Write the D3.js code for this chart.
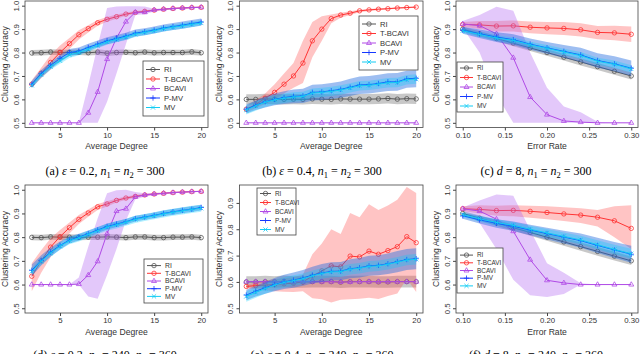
<!DOCTYPE html>
<html>
<head>
<meta charset="utf-8">
<script src="https://d3js.org/d3.v7.min.js"></script>
<style>
  body { margin: 0; background: #fff; }
  svg text { font-family: "Liberation Sans", Arial, sans-serif; fill: #333; }
  text.cap, text.cap tspan { font-family: "Liberation Serif", "DejaVu Serif", serif; fill: #000; }
</style>
</head>
<body>
<svg width="640" height="354"></svg>
<script>
// x values and ticks
var degree = [2,3,4,5,6,7,8,9,10,11,12,13,14,15,16,17,18,19,20];
var errorRate = [0.10,0.12,0.14,0.16,0.18,0.20,0.22,0.24,0.26,0.28,0.30];
var degreeTicks = [5,10,15,20];
var errorTicks = [0.10,0.15,0.20,0.25,0.30];
var accTicks = [0.5,0.6,0.7,0.8,0.9,1.0];
var accTicksE = [0.5,0.6,0.7,0.8,0.9];
var methods = ["RI","T-BCAVI","BCAVI","P-MV","MV"];

// (a) eps = 0.2, n1 = n2 = 300
var aRI   = [0.798,0.799,0.802,0.801,0.800,0.801,0.799,0.802,0.797,0.800,0.801,0.799,0.802,0.799,0.800,0.800,0.800,0.803,0.799];
var aRIlo = [0.786,0.787,0.789,0.789,0.788,0.789,0.787,0.790,0.785,0.788,0.789,0.787,0.790,0.787,0.788,0.788,0.788,0.790,0.787];
var aRIhi = [0.811,0.812,0.814,0.813,0.812,0.813,0.811,0.814,0.810,0.812,0.813,0.811,0.814,0.811,0.812,0.812,0.812,0.815,0.811];
var aTB   = [0.665,0.712,0.758,0.800,0.838,0.876,0.902,0.927,0.942,0.953,0.964,0.971,0.976,0.981,0.985,0.988,0.990,0.992,0.993];
var aTBlo = [0.650,0.690,0.728,0.770,0.815,0.856,0.886,0.914,0.931,0.944,0.957,0.965,0.971,0.977,0.981,0.985,0.987,0.989,0.991];
var aTBhi = [0.682,0.735,0.790,0.830,0.862,0.895,0.917,0.939,0.952,0.962,0.971,0.977,0.981,0.985,0.988,0.991,0.993,0.995,0.996];
var aBC   = [0.5,0.5,0.5,0.5,0.5,0.5,0.543,0.632,0.772,0.862,0.932,0.972,0.972,0.982,0.985,0.988,0.990,0.992,0.993];
var aBClo = [0.5,0.5,0.5,0.5,0.5,0.5,0.5,0.5,0.59,0.71,0.835,0.96,0.963,0.975,0.981,0.985,0.987,0.989,0.991];
var aBChi = [0.5,0.5,0.5,0.5,0.5,0.5,0.66,0.83,0.99,0.996,0.998,0.998,0.996,0.987,0.988,0.991,0.993,0.995,0.996];
var aPM   = [0.665,0.710,0.745,0.775,0.800,0.806,0.822,0.836,0.850,0.860,0.870,0.883,0.889,0.896,0.905,0.911,0.917,0.924,0.930];
var aPMlo = [0.650,0.695,0.730,0.760,0.785,0.791,0.807,0.821,0.835,0.845,0.855,0.868,0.874,0.881,0.890,0.896,0.902,0.909,0.915];
var aPMhi = [0.680,0.725,0.760,0.790,0.815,0.821,0.837,0.851,0.865,0.875,0.885,0.898,0.904,0.911,0.920,0.926,0.932,0.939,0.945];
var aMV   = [0.660,0.705,0.740,0.765,0.790,0.800,0.815,0.830,0.845,0.856,0.866,0.878,0.886,0.893,0.902,0.908,0.914,0.920,0.926];
var aMVlo = [0.648,0.692,0.727,0.752,0.777,0.788,0.803,0.818,0.833,0.844,0.854,0.866,0.874,0.881,0.890,0.896,0.902,0.908,0.914];
var aMVhi = [0.672,0.718,0.753,0.778,0.803,0.812,0.827,0.842,0.857,0.868,0.878,0.890,0.898,0.905,0.914,0.920,0.926,0.932,0.938];

// (b) eps = 0.4, n1 = n2 = 300
var bRI   = [0.600,0.600,0.602,0.601,0.600,0.601,0.600,0.602,0.601,0.600,0.602,0.601,0.601,0.601,0.602,0.604,0.601,0.603,0.602];
var bRIlo = [0.578,0.578,0.580,0.579,0.578,0.579,0.578,0.580,0.579,0.578,0.580,0.579,0.579,0.579,0.580,0.582,0.579,0.581,0.580];
var bRIhi = [0.622,0.622,0.624,0.623,0.622,0.623,0.622,0.624,0.623,0.622,0.624,0.623,0.623,0.623,0.624,0.626,0.623,0.625,0.624];
var bTB   = [0.558,0.578,0.605,0.630,0.665,0.700,0.755,0.850,0.900,0.945,0.960,0.968,0.978,0.982,0.985,0.987,0.990,0.992,0.994];
var bTBlo = [0.545,0.562,0.580,0.600,0.625,0.650,0.670,0.780,0.850,0.925,0.948,0.960,0.972,0.977,0.981,0.984,0.987,0.989,0.991];
var bTBhi = [0.572,0.597,0.625,0.665,0.710,0.755,0.850,0.930,0.955,0.962,0.970,0.976,0.983,0.986,0.989,0.990,0.993,0.995,0.997];
var bBC   = [0.5,0.5,0.5,0.5,0.5,0.5,0.5,0.5,0.5,0.5,0.5,0.5,0.5,0.5,0.5,0.5,0.5,0.5,0.5];
var bPM   = [0.558,0.575,0.590,0.600,0.608,0.613,0.615,0.630,0.632,0.637,0.643,0.652,0.662,0.663,0.668,0.675,0.675,0.688,0.690];
var bPMlo = [0.540,0.555,0.565,0.575,0.580,0.583,0.585,0.595,0.597,0.602,0.607,0.615,0.623,0.625,0.630,0.636,0.637,0.650,0.652];
var bPMhi = [0.578,0.595,0.612,0.625,0.635,0.642,0.645,0.662,0.665,0.670,0.676,0.688,0.698,0.700,0.705,0.712,0.713,0.722,0.724];
var bMV   = [0.555,0.572,0.588,0.598,0.605,0.610,0.613,0.627,0.630,0.634,0.640,0.649,0.658,0.660,0.665,0.671,0.672,0.684,0.687];
var bMVlo = [0.535,0.552,0.568,0.578,0.585,0.590,0.593,0.607,0.610,0.614,0.620,0.629,0.638,0.640,0.645,0.651,0.652,0.664,0.667];
var bMVhi = [0.575,0.592,0.608,0.618,0.625,0.630,0.633,0.647,0.650,0.654,0.660,0.669,0.678,0.680,0.685,0.691,0.692,0.704,0.707];

// (c) d = 8, n1 = n2 = 300
var cRI   = [0.900,0.880,0.860,0.840,0.820,0.800,0.780,0.760,0.740,0.720,0.700];
var cRIlo = [0.890,0.869,0.848,0.827,0.807,0.786,0.766,0.745,0.725,0.705,0.685];
var cRIhi = [0.910,0.891,0.872,0.853,0.833,0.814,0.794,0.775,0.755,0.735,0.715];
var cTB   = [0.920,0.918,0.913,0.914,0.908,0.905,0.903,0.897,0.886,0.884,0.878];
var cTBlo = [0.910,0.900,0.890,0.890,0.882,0.878,0.875,0.868,0.857,0.852,0.845];
var cTBhi = [0.930,0.935,0.935,0.937,0.932,0.930,0.930,0.925,0.913,0.914,0.911];
var cBC   = [0.922,0.915,0.880,0.778,0.610,0.535,0.508,0.503,0.500,0.500,0.500];
var cBClo = [0.905,0.800,0.620,0.500,0.500,0.500,0.500,0.500,0.500,0.500,0.500];
var cBChi = [0.935,0.960,0.995,0.978,0.800,0.650,0.570,0.545,0.505,0.500,0.500];
var cPM   = [0.895,0.880,0.866,0.855,0.836,0.820,0.805,0.790,0.766,0.752,0.733];
var cPMlo = [0.880,0.862,0.845,0.832,0.812,0.795,0.778,0.760,0.735,0.720,0.700];
var cPMhi = [0.910,0.898,0.887,0.878,0.860,0.845,0.832,0.820,0.797,0.784,0.766];
var cMV   = [0.893,0.877,0.862,0.852,0.833,0.818,0.802,0.787,0.763,0.750,0.730];
var cMVlo = [0.883,0.866,0.850,0.839,0.820,0.804,0.788,0.772,0.748,0.734,0.714];
var cMVhi = [0.903,0.888,0.874,0.865,0.846,0.832,0.816,0.802,0.778,0.766,0.746];

// (d) eps = 0.2, n1 = 240, n2 = 360
var dRI   = [0.799,0.798,0.801,0.800,0.800,0.799,0.800,0.800,0.801,0.800,0.798,0.801,0.801,0.798,0.798,0.800,0.800,0.801,0.798];
var dRIlo = [0.787,0.786,0.789,0.788,0.788,0.787,0.788,0.788,0.789,0.788,0.786,0.789,0.789,0.786,0.786,0.788,0.788,0.789,0.786];
var dRIhi = [0.811,0.810,0.813,0.812,0.812,0.811,0.812,0.812,0.813,0.812,0.810,0.813,0.813,0.810,0.810,0.812,0.812,0.813,0.810];
var dTB   = [0.635,0.700,0.758,0.802,0.840,0.875,0.902,0.928,0.940,0.955,0.965,0.972,0.978,0.982,0.985,0.988,0.990,0.992,0.993];
var dTBlo = [0.572,0.650,0.715,0.770,0.815,0.855,0.886,0.915,0.929,0.946,0.958,0.966,0.973,0.978,0.982,0.985,0.987,0.989,0.991];
var dTBhi = [0.690,0.745,0.795,0.830,0.862,0.893,0.917,0.940,0.951,0.963,0.972,0.978,0.983,0.986,0.988,0.991,0.993,0.995,0.996];
var dBC   = [0.600,0.600,0.600,0.600,0.600,0.602,0.640,0.698,0.815,0.910,0.920,0.970,0.978,0.982,0.985,0.988,0.990,0.992,0.993];
var dBClo = [0.600,0.600,0.600,0.600,0.600,0.600,0.550,0.540,0.640,0.750,0.870,0.960,0.970,0.978,0.982,0.985,0.987,0.989,0.991];
var dBChi = [0.600,0.600,0.600,0.600,0.600,0.630,0.760,0.880,0.985,0.998,1.000,0.990,0.985,0.986,0.988,0.991,0.993,0.995,0.996];
var dPM   = [0.660,0.702,0.737,0.765,0.788,0.800,0.815,0.830,0.845,0.855,0.865,0.878,0.885,0.892,0.900,0.907,0.913,0.918,0.925];
var dPMlo = [0.635,0.680,0.718,0.748,0.773,0.786,0.802,0.817,0.832,0.843,0.853,0.866,0.873,0.880,0.888,0.895,0.901,0.906,0.913];
var dPMhi = [0.685,0.724,0.756,0.782,0.803,0.814,0.828,0.843,0.858,0.867,0.877,0.890,0.897,0.904,0.912,0.919,0.925,0.930,0.937];
var dMV   = [0.655,0.698,0.733,0.762,0.785,0.797,0.812,0.827,0.842,0.852,0.863,0.875,0.883,0.890,0.898,0.905,0.911,0.917,0.922];
var dMVlo = [0.640,0.683,0.718,0.747,0.770,0.782,0.797,0.812,0.827,0.837,0.848,0.860,0.868,0.875,0.883,0.890,0.896,0.902,0.907];
var dMVhi = [0.670,0.713,0.748,0.777,0.800,0.812,0.827,0.842,0.857,0.867,0.878,0.890,0.898,0.905,0.913,0.920,0.926,0.932,0.937];

// (e) eps = 0.4, n1 = 240, n2 = 360
var eRI   = [0.600,0.600,0.601,0.600,0.602,0.600,0.600,0.601,0.601,0.601,0.599,0.601,0.601,0.601,0.600,0.600,0.601,0.601,0.601];
var eRIlo = [0.578,0.578,0.579,0.578,0.580,0.578,0.578,0.579,0.579,0.579,0.577,0.579,0.579,0.579,0.578,0.578,0.579,0.579,0.579];
var eRIhi = [0.622,0.622,0.623,0.622,0.624,0.622,0.622,0.623,0.623,0.623,0.621,0.623,0.623,0.623,0.622,0.622,0.623,0.623,0.623];
var eTB   = [0.583,0.586,0.588,0.590,0.593,0.595,0.600,0.622,0.642,0.661,0.657,0.698,0.695,0.717,0.705,0.719,0.734,0.772,0.749];
var eTBlo = [0.575,0.572,0.568,0.565,0.563,0.562,0.565,0.538,0.534,0.522,0.532,0.534,0.536,0.540,0.535,0.547,0.556,0.612,0.562];
var eTBhi = [0.591,0.598,0.605,0.610,0.614,0.618,0.628,0.705,0.746,0.800,0.782,0.862,0.846,0.895,0.873,0.890,0.912,0.960,0.938];
var eBC   = [0.601,0.601,0.601,0.600,0.601,0.601,0.601,0.601,0.601,0.601,0.600,0.600,0.601,0.601,0.601,0.601,0.601,0.601,0.601];
var ePM   = [0.550,0.565,0.578,0.590,0.600,0.607,0.615,0.626,0.634,0.640,0.641,0.650,0.654,0.661,0.663,0.669,0.677,0.685,0.688];
var ePMlo = [0.530,0.545,0.555,0.565,0.573,0.578,0.585,0.594,0.600,0.605,0.606,0.614,0.617,0.623,0.625,0.630,0.637,0.645,0.648];
var ePMhi = [0.570,0.585,0.600,0.615,0.627,0.636,0.645,0.658,0.668,0.675,0.676,0.686,0.691,0.699,0.701,0.708,0.717,0.725,0.728];
var eMV   = [0.545,0.560,0.575,0.588,0.598,0.605,0.612,0.623,0.632,0.638,0.639,0.648,0.652,0.659,0.661,0.667,0.675,0.683,0.686];
var eMVlo = [0.525,0.540,0.555,0.568,0.578,0.585,0.592,0.603,0.612,0.618,0.619,0.628,0.632,0.639,0.641,0.647,0.655,0.663,0.666];
var eMVhi = [0.565,0.580,0.595,0.608,0.618,0.625,0.632,0.643,0.652,0.658,0.659,0.668,0.672,0.679,0.681,0.687,0.695,0.703,0.706];

// (f) d = 8, n1 = 240, n2 = 360
var fRI   = [0.900,0.880,0.860,0.840,0.820,0.800,0.780,0.760,0.740,0.720,0.700];
var fRIlo = [0.890,0.869,0.848,0.827,0.806,0.785,0.764,0.743,0.722,0.702,0.682];
var fRIhi = [0.910,0.891,0.872,0.853,0.834,0.815,0.796,0.777,0.758,0.738,0.718];
var fTB   = [0.920,0.917,0.912,0.913,0.909,0.904,0.898,0.893,0.884,0.869,0.837];
var fTBlo = [0.910,0.900,0.890,0.888,0.882,0.876,0.868,0.860,0.845,0.800,0.750];
var fTBhi = [0.930,0.935,0.932,0.935,0.932,0.930,0.926,0.922,0.915,0.930,0.935];
var fBC   = [0.920,0.910,0.876,0.825,0.705,0.618,0.607,0.600,0.600,0.600,0.600];
var fBClo = [0.915,0.860,0.750,0.620,0.555,0.548,0.560,0.600,0.600,0.600,0.600];
var fBChi = [0.925,0.955,0.980,0.975,0.830,0.690,0.650,0.605,0.600,0.600,0.600];
var fPM   = [0.890,0.873,0.858,0.846,0.830,0.815,0.800,0.785,0.765,0.746,0.728];
var fPMlo = [0.878,0.858,0.840,0.826,0.808,0.790,0.773,0.755,0.733,0.712,0.692];
var fPMhi = [0.902,0.888,0.876,0.866,0.852,0.840,0.827,0.815,0.797,0.780,0.764];
var fMV   = [0.895,0.878,0.862,0.850,0.833,0.818,0.803,0.788,0.768,0.748,0.730];
var fMVlo = [0.884,0.866,0.849,0.836,0.818,0.802,0.786,0.770,0.749,0.728,0.709];
var fMVhi = [0.906,0.890,0.875,0.864,0.848,0.834,0.820,0.806,0.787,0.768,0.751];

// line / band / marker style per method
var styles = [
  {line: "#555555", band: "rgba(110,110,110,0.38)", mark: "circle"},
  {line: "#ff3434", band: "rgba(255,70,70,0.32)",   mark: "circle"},
  {line: "#b04ae6", band: "rgba(176,96,240,0.35)",  mark: "triangle"},
  {line: "#1438ff", band: "rgba(40,110,225,0.45)",  mark: "plus"},
  {line: "#12ccf4", band: "rgba(0,205,255,0.30)",   mark: "cross"}
];

var svg = d3.select("svg");

var colLeft = [25, 239.5, 456], colW = [183, 183.5, 182];
var rowTop = [1, 185], rowH = [126.5, 128];
var capX = [105, 322, 536], capBase = [175, 359];

var panels = [
  {col:0, row:0, x:degree, xdom:[1.28,20.72], xt:degreeTicks, xf:d3.format("d"), xlab:"Average Degree", ydom:[0.48,1.02], yt:accTicks,
   s:[[aRI,aRIlo,aRIhi],[aTB,aTBlo,aTBhi],[aBC,aBClo,aBChi],[aPM,aPMlo,aPMhi],[aMV,aMVlo,aMVhi]],
   leg:{x:118, y:60, w:61, h:55, step:9.5, fs:7.6, seg:14},
   cap:["(a)", "eps", "0.2", "n1n2", "300"]},
  {col:1, row:0, x:degree, xdom:[1.28,20.72], xt:degreeTicks, xf:d3.format("d"), xlab:"Average Degree", ydom:[0.48,1.02], yt:accTicks,
   s:[[bRI,bRIlo,bRIhi],[bTB,bTBlo,bTBhi],[bBC,bBC,bBC],[bPM,bPMlo,bPMhi],[bMV,bMVlo,bMVhi]],
   leg:{x:119.5, y:15, w:59, h:54, step:9.5, fs:7.6, seg:14},
   cap:["(b)", "eps", "0.4", "n1n2", "300"]},
  {col:2, row:0, x:errorRate, xdom:[0.092,0.308], xt:errorTicks, xf:d3.format(".2f"), xlab:"Error Rate", ydom:[0.48,1.02], yt:accTicks,
   s:[[cRI,cRIlo,cRIhi],[cTB,cTBlo,cTBhi],[cBC,cBClo,cBChi],[cPM,cPMlo,cPMhi],[cMV,cMVlo,cMVhi]],
   leg:{x:1, y:61, w:46, h:50, step:9.5, fs:6.4, seg:13},
   cap:["(c)", "d", "8", "n1n2", "300"]},
  {col:0, row:1, x:degree, xdom:[1.28,20.72], xt:degreeTicks, xf:d3.format("d"), xlab:"Average Degree", ydom:[0.48,1.02], yt:accTicks,
   s:[[dRI,dRIlo,dRIhi],[dTB,dTBlo,dTBhi],[dBC,dBClo,dBChi],[dPM,dPMlo,dPMhi],[dMV,dMVlo,dMVhi]],
   leg:{x:119, y:74, w:59, h:44, step:7.7, fs:6.8, seg:14},
   cap:["(d)", "eps", "0.2", "n240", "360"]},
  {col:1, row:1, x:degree, xdom:[1.28,20.72], xt:degreeTicks, xf:d3.format("d"), xlab:"Average Degree", ydom:[0.482,0.968], yt:accTicksE,
   s:[[eRI,eRIlo,eRIhi],[eTB,eTBlo,eTBhi],[eBC,eBC,eBC],[ePM,ePMlo,ePMhi],[eMV,eMVlo,eMVhi]],
   leg:{x:17.5, y:3, w:39, h:47, step:9, fs:6.4, seg:11},
   cap:["(e)", "eps", "0.4", "n240", "360"]},
  {col:2, row:1, x:errorRate, xdom:[0.092,0.308], xt:errorTicks, xf:d3.format(".2f"), xlab:"Error Rate", ydom:[0.48,1.02], yt:accTicks,
   s:[[fRI,fRIlo,fRIhi],[fTB,fTBlo,fTBhi],[fBC,fBClo,fBChi],[fPM,fPMlo,fPMhi],[fMV,fMVlo,fMVhi]],
   leg:{x:1, y:63, w:46, h:45, step:7.7, fs:6.4, seg:13},
   cap:["(f)", "d", "8", "n240", "360"]}
];

function marker(g, type, color, cx, cy) {
  if (type === "circle") {
    g.append("circle").attr("cx", cx).attr("cy", cy).attr("r", 2.2)
      .attr("fill", "none").attr("stroke", color).attr("stroke-width", 0.8);
  } else {
    var d;
    if (type === "triangle") d = "M0,-2.8L2.5,1.5L-2.5,1.5Z";
    if (type === "plus") d = "M-2.7,0H2.7M0,-2.7V2.7";
    if (type === "cross") d = "M-2.1,-2.1L2.1,2.1M-2.1,2.1L2.1,-2.1";
    g.append("path").attr("d", d).attr("transform", "translate(" + cx + "," + cy + ")")
      .attr("fill", "none").attr("stroke", color).attr("stroke-width", 0.8);
  }
}

panels.forEach(function(p) {
  var left = colLeft[p.col], top = rowTop[p.row], w = colW[p.col], h = rowH[p.row];
  var g = svg.append("g").attr("transform", "translate(" + left + "," + top + ")");

  var x = d3.scaleLinear().domain(p.xdom).range([0, w]);
  var y = d3.scaleLinear().domain(p.ydom).range([h, 0]);

  // band, line and points for each method in turn
  p.s.forEach(function(ser, i) {
    var st = styles[i];
    var pts = p.x.map(function(xv, j) { return {x: xv, m: ser[0][j], lo: ser[1][j], hi: ser[2][j]}; });
    g.append("path")
      .attr("d", d3.area().x(function(d) { return x(d.x); })
        .y0(function(d) { return y(d.lo); }).y1(function(d) { return y(d.hi); })(pts))
      .attr("fill", st.band);
    g.append("path")
      .attr("d", d3.line().x(function(d) { return x(d.x); }).y(function(d) { return y(d.m); })(pts))
      .attr("fill", "none").attr("stroke", st.line).attr("stroke-width", 1);
    pts.forEach(function(d) { marker(g, st.mark, st.line, x(d.x), y(d.m)); });
  });

  // frame
  g.append("rect").attr("width", w).attr("height", h)
    .attr("fill", "none").attr("stroke", "#444").attr("stroke-width", 0.8);

  // x axis
  var xa = g.append("g").attr("transform", "translate(0," + h + ")")
    .call(d3.axisBottom(x).tickValues(p.xt).tickFormat(p.xf).tickSize(3).tickPadding(1.5));
  xa.select(".domain").remove();
  xa.selectAll("line").attr("stroke", "#444");
  xa.selectAll("text").attr("font-size", 7.8).attr("fill", "#333");

  // y axis, labels parallel to the axis
  var ya = g.append("g").call(d3.axisLeft(y).tickValues(p.yt).tickFormat(d3.format(".1f")).tickSize(3));
  ya.select(".domain").remove();
  ya.selectAll("line").attr("stroke", "#444");
  ya.selectAll("text").remove();
  ya.selectAll(".tick").append("text")
    .attr("transform", "translate(-6.5,0) rotate(-90)")
    .attr("text-anchor", "middle").attr("font-size", 7.8).attr("fill", "#333")
    .text(function(d) { return d3.format(".1f")(d); });

  // axis titles
  g.append("text").attr("x", w / 2).attr("y", h + 21.5).attr("text-anchor", "middle")
    .attr("font-size", 8.6).text(p.xlab);
  g.append("text").attr("transform", "translate(-17.5," + (h / 2) + ") rotate(-90)")
    .attr("text-anchor", "middle").attr("font-size", 8.6).text("Clustering Accuracy");

  // legend
  var L = p.leg;
  var lg = g.append("g").attr("transform", "translate(" + L.x + "," + L.y + ")");
  lg.append("rect").attr("width", L.w).attr("height", L.h)
    .attr("fill", "#fff").attr("stroke", "#444").attr("stroke-width", 0.8);
  methods.forEach(function(m, i) {
    var yy = L.step * (i + 0.5) + (L.h - L.step * 5) / 2;
    lg.append("line").attr("x1", 3).attr("x2", 3 + L.seg).attr("y1", yy).attr("y2", yy)
      .attr("stroke", styles[i].line).attr("stroke-width", 1);
    marker(lg, styles[i].mark, styles[i].line, 3 + L.seg / 2, yy);
    lg.append("text").attr("x", 7 + L.seg).attr("y", yy).attr("dy", "0.35em")
      .attr("font-size", L.fs).text(m);
  });

  // caption (bottom row is clipped by the picture edge, as in the source)
  var c = p.cap;
  var t = svg.append("text").attr("class", "cap").attr("x", capX[p.col]).attr("y", capBase[p.row])
    .attr("text-anchor", "middle").attr("font-size", 12)
    .attr("font-family", "'Liberation Serif', 'DejaVu Serif', serif");
  t.append("tspan").text(c[0] + " ");
  if (c[1] === "eps") t.append("tspan").attr("font-style", "italic").text("\u03b5");
  else t.append("tspan").attr("font-style", "italic").text("d");
  t.append("tspan").text(" = " + c[2] + ", ");
  t.append("tspan").attr("font-style", "italic").text("n");
  t.append("tspan").attr("font-size", 8.5).attr("dy", 2.5).text("1");
  if (c[3] === "n1n2") {
    t.append("tspan").attr("dy", -2.5).text(" = ");
    t.append("tspan").attr("font-style", "italic").text("n");
    t.append("tspan").attr("font-size", 8.5).attr("dy", 2.5).text("2");
    t.append("tspan").attr("dy", -2.5).text(" = " + c[4]);
  } else {
    t.append("tspan").attr("dy", -2.5).text(" = 240, ");
    t.append("tspan").attr("font-style", "italic").text("n");
    t.append("tspan").attr("font-size", 8.5).attr("dy", 2.5).text("2");
    t.append("tspan").attr("dy", -2.5).text(" = " + c[4]);
  }
});
</script>
</body>
</html>
